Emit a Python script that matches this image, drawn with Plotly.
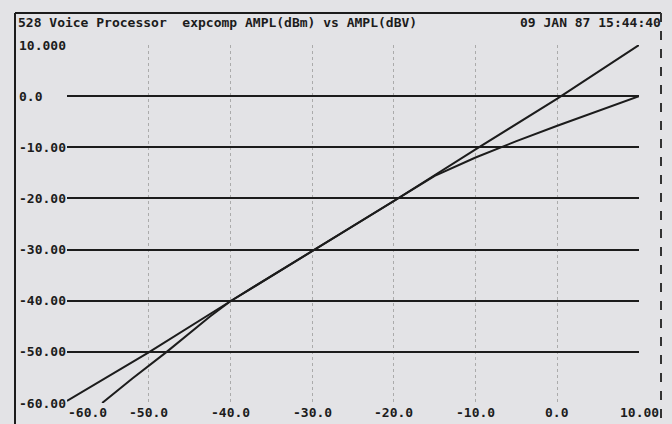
import plotly.graph_objects as go

# values
x_ticks = [-60, -50, -40, -30, -20, -10, 0, 10]
x_tick_text = ["-60.0", "-50.0", "-40.0", "-30.0", "-20.0", "-10.0", "0.0", "10.00"]
y_ticks = [10, 0, -10, -20, -30, -40, -50, -60]
y_tick_text = ["10.000", "0.0", "-10.00", "-20.00", "-30.00", "-40.00", "-50.00", "-60.00"]

# straight reference trace
ref_in = [-60, -50, -40, -30, -20, -10, 0, 10]
ref_out = [-59.6, -50.1, -40.1, -30.3, -20.5, -10.4, -0.5, 10.0]

# expander / compressor trace
exp_in = [-55.7, -52, -47.8, -45, -42.5, -40, -30, -20, -15, -10, -5, 0, 5, 10]
exp_out = [-60, -55.2, -50, -46.4, -43.1, -40.1, -30.3, -20.5, -15.6, -12.0, -8.8, -5.8, -2.9, 0]

title_left = "528 Voice Processor  expcomp AMPL(dBm) vs AMPL(dBV)"
title_right = "09 JAN 87 15:44:40"

ink = "#1c1c1c"
paper = "#e3e3e6"
fnt = dict(family="DejaVu Sans Mono", size=13, color=ink, weight="bold")

# plot area in pixels: x 67..639, y 45..403
W, H = 672, 424
L, R, T, B = 67, 33, 45, 21
pw, ph = W - L - R, H - T - B

def px(xp):
    return (xp - L) / pw

def py(yp):
    return (H - B - yp) / ph

fig = go.Figure()
fig.add_trace(go.Scatter(x=ref_in, y=ref_out, mode="lines",
                         line=dict(color=ink, width=2), hoverinfo="skip"))
fig.add_trace(go.Scatter(x=exp_in, y=exp_out, mode="lines",
                         line=dict(color=ink, width=2), hoverinfo="skip"))

annotations = []
for i, (v, t) in enumerate(zip(x_ticks, x_tick_text)):
    annotations.append(dict(x=v, y=py(412), xref="x", yref="paper", text=t,
                            showarrow=False, xanchor="center", yanchor="middle",
                            xshift=20 if i == 0 else 0, font=fnt))
for v, t in zip(y_ticks, y_tick_text):
    annotations.append(dict(x=px(17), y=v, xref="paper", yref="y", text=t,
                            showarrow=False, xanchor="left", yanchor="middle", font=fnt))
annotations.append(dict(x=px(16), y=py(22), xref="paper", yref="paper", text=title_left,
                        showarrow=False, xanchor="left", yanchor="middle", font=fnt))
annotations.append(dict(x=px(663), y=py(22), xref="paper", yref="paper", text=title_right,
                        showarrow=False, xanchor="right", yanchor="middle", font=fnt))

# outer frame of the printout
shapes = [
    dict(type="line", xref="paper", yref="paper", x0=px(15), x1=px(15), y0=py(13), y1=py(424),
         line=dict(color=ink, width=2)),
    dict(type="line", xref="paper", yref="paper", x0=px(15), x1=px(661), y0=py(13), y1=py(13),
         line=dict(color=ink, width=2)),
    dict(type="line", xref="paper", yref="paper", x0=px(661), x1=px(661), y0=py(13), y1=py(424),
         line=dict(color="#333333", width=2, dash="dash")),
]

fig.update_layout(
    width=W, height=H,
    margin=dict(l=L, r=R, t=T, b=B),
    paper_bgcolor=paper, plot_bgcolor=paper,
    showlegend=False,
    annotations=annotations,
    shapes=shapes,
    xaxis=dict(range=[-60, 10], tickvals=x_ticks, showticklabels=False, zeroline=False,
               showline=False, showgrid=True, gridcolor="#ababab", gridwidth=1, griddash="dot"),
    yaxis=dict(range=[-60, 10], tickvals=y_ticks, showticklabels=False, zeroline=False,
               showline=False, showgrid=True, gridcolor=ink, gridwidth=2),
)

# drop the browser's default body margin so the figure sits at the page corner
fig.write_html("out.html", config={"displayModeBar": False},
               post_script="document.body.style.margin='0';")
